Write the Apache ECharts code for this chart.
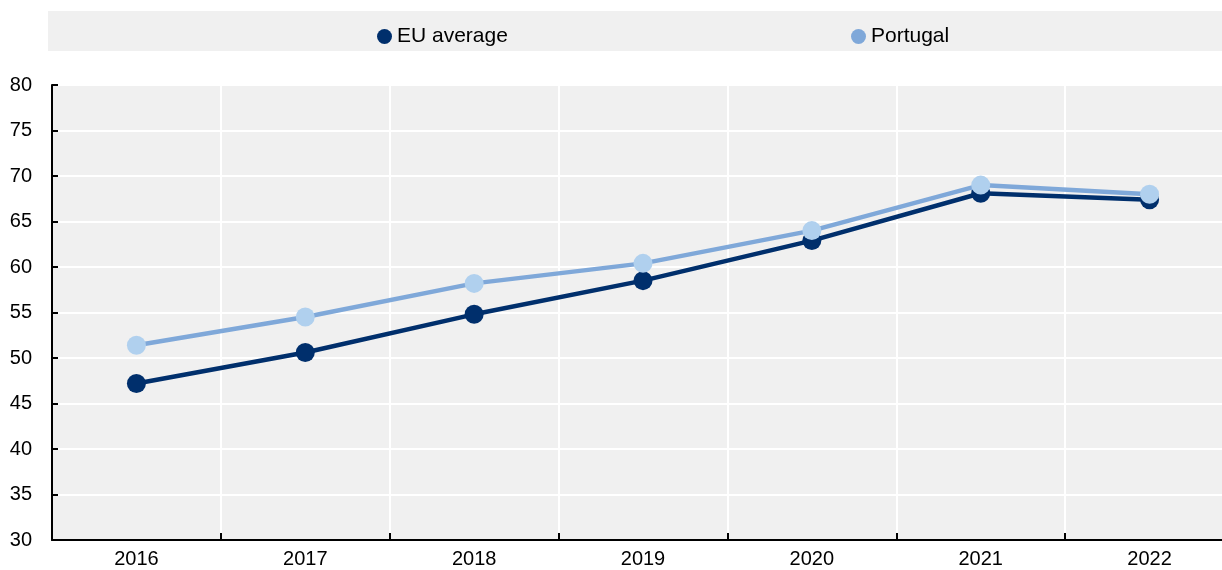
<!DOCTYPE html>
<html>
<head>
<meta charset="utf-8">
<script src="https://cdn.jsdelivr.net/npm/echarts@6/dist/echarts.min.js"></script>
<style>
  html, body { margin: 0; padding: 0; background: #fff; overflow: hidden; }
  #main { width: 1234px; height: 570px; }
</style>
</head>
<body>
<div id="main"></div>
<script>
var myChart = echarts.init(document.getElementById('main'));

var years = ['2016', '2017', '2018', '2019', '2020', '2021', '2022'];
var euAverage = [47.2, 50.6, 54.8, 58.5, 62.9, 68.1, 67.4];
var portugal = [51.4, 54.5, 58.2, 60.4, 64.0, 69.0, 68.0];

var fontName = '"Liberation Sans Narrow", "Arial Narrow", "Liberation Sans", Arial, sans-serif';

option = {
  animation: false,
  textStyle: { fontFamily: fontName },
  graphic: [
    {
      type: 'rect',
      shape: { x: 48, y: 11, width: 1174, height: 40 },
      style: { fill: '#F0F0F0' },
      silent: true,
      z: -1
    }
  ],
  legend: [
    {
      data: [{ name: 'EU average', itemStyle: { color: '#002F6C' } }],
      left: 372,
      top: 21,
      icon: 'circle',
      itemWidth: 15,
      itemHeight: 15,
      textStyle: { fontSize: 21, color: '#000', fontFamily: fontName }
    },
    {
      data: [{ name: 'Portugal', itemStyle: { color: '#7FA8D9' } }],
      left: 846,
      top: 21,
      icon: 'circle',
      itemWidth: 15,
      itemHeight: 15,
      textStyle: { fontSize: 21, color: '#000', fontFamily: fontName }
    }
  ],
  grid: {
    left: 52,
    top: 85,
    right: 0,
    height: 455,
    show: true,
    backgroundColor: '#F0F0F0',
    borderWidth: 0
  },
  xAxis: {
    type: 'category',
    data: years,
    boundaryGap: true,
    axisLine: { show: true, lineStyle: { color: '#000', width: 2 } },
    axisTick: { show: true, inside: true, length: 7, lineStyle: { color: '#000', width: 2 } },
    axisLabel: { fontSize: 20, color: '#000', margin: 9, fontFamily: fontName },
    splitLine: { show: true, lineStyle: { color: '#fff', width: 2 } }
  },
  yAxis: {
    type: 'value',
    min: 30,
    max: 80,
    interval: 5,
    axisLine: { show: true, lineStyle: { color: '#000', width: 2 } },
    axisTick: { show: true, inside: true, length: 6, lineStyle: { color: '#000', width: 2 } },
    axisLabel: { fontSize: 20, color: '#000', margin: 20, fontFamily: fontName },
    splitLine: { show: true, lineStyle: { color: '#fff', width: 2 } }
  },
  series: [
    {
      name: 'EU average',
      type: 'line',
      data: euAverage,
      symbol: 'circle',
      symbolSize: 19,
      itemStyle: { color: '#002F6C' },
      lineStyle: { color: '#002F6C', width: 4.5 },
      z: 3
    },
    {
      name: 'Portugal',
      type: 'line',
      data: portugal,
      symbol: 'circle',
      symbolSize: 19,
      itemStyle: { color: '#B0D0EE' },
      lineStyle: { color: '#7FA8D9', width: 4.5 },
      z: 4
    }
  ]
};

myChart.setOption(option);
</script>
</body>
</html>
